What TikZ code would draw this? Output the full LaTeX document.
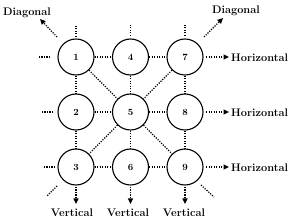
\documentclass[tikz,border=0pt]{standalone}
\usetikzlibrary{arrows.meta}
\begin{document}
\begin{tikzpicture}[x=1pt,y=-1pt,
  cell/.style={circle,draw,line width=1.1pt,minimum size=36pt,inner sep=0pt,font=\fontsize{9.5}{10}\selectfont\bfseries},
  dotline/.style={line width=1.2pt,dash pattern=on 1.2pt off 1.3pt},
  arr/.style={dotline,-{Triangle[length=5.5pt,width=5pt]}},
  lbl/.style={font=\fontsize{11}{12}\selectfont\bfseries,inner sep=0pt}]
\useasboundingbox (0,0) rectangle (292,221);
% nodes
\node[cell] (n1) at (76,57) {1};
\node[cell] (n4) at (130.5,57) {4};
\node[cell] (n7) at (185,57) {7};
\node[cell] (n2) at (76,112) {2};
\node[cell] (n5) at (130.5,112) {5};
\node[cell] (n8) at (185,112) {8};
\node[cell] (n3) at (76,167) {3};
\node[cell] (n6) at (130.5,167) {6};
\node[cell] (n9) at (185,167) {9};
% grid connectors
\draw[dotline] (n1) -- (n4);
\draw[dotline] (n4) -- (n7);
\draw[dotline] (n2) -- (n5);
\draw[dotline] (n5) -- (n8);
\draw[dotline] (n3) -- (n6);
\draw[dotline] (n6) -- (n9);
\draw[dotline] (n1) -- (n2);
\draw[dotline] (n2) -- (n3);
\draw[dotline] (n4) -- (n5);
\draw[dotline] (n5) -- (n6);
\draw[dotline] (n7) -- (n8);
\draw[dotline] (n8) -- (n9);
\draw[dotline] (n1) -- (n5);
\draw[dotline] (n5) -- (n9);
\draw[dotline] (n7) -- (n5);
\draw[dotline] (n5) -- (n3);
% free stubs
\draw[dotline] (n1) ++(0,-20) -- ++(0,-12);
\draw[dotline] (n4) ++(0,-21) -- ++(0,-12);
\draw[dotline] (n7) ++(0,-21) -- ++(0,-12);
\draw[dotline] (n1) ++(-26,0) -- ++(-12,0);
\draw[dotline] (n2) ++(-23,0) -- ++(-12,0);
\draw[dotline] (n3) ++(-21,0) -- ++(-12,0);
\draw[dotline] (n3) ++(-19,19) -- ++(-10,10);
\draw[dotline] (n9) ++(16,18) -- ++(13,12);
% labelled arrows
\node[lbl] (dl) at (27,13) {Diagonal};
\node[lbl] (dr) at (236,11) {Diagonal};
\node[lbl,anchor=west] (h7) at (231,58) {Horizontal};
\node[lbl,anchor=west] (h8) at (231,113) {Horizontal};
\node[lbl,anchor=west] (h9) at (231,168) {Horizontal};
\node[lbl] (v3) at (72,213) {Vertical};
\node[lbl] (v6) at (128,213) {Vertical};
\node[lbl] (v9) at (184,213) {Vertical};
\draw[arr] (n1) ++(-19,-20) -- ++(-17,-18);
\draw[arr] (n7) ++(19,-20) -- ++(19,-19);
\draw[arr] (n7) ++(21,0) -- ++(23,0);
\draw[arr] (n8) ++(21,0) -- ++(23,0);
\draw[arr] (n9) ++(21,0) -- ++(23,0);
\draw[arr] (n3) ++(0,20) -- ++(0,17);
\draw[arr] (n6) ++(0,20) -- ++(0,17);
\draw[arr] (n9) ++(0,20) -- ++(0,17);
\end{tikzpicture}
\end{document}
